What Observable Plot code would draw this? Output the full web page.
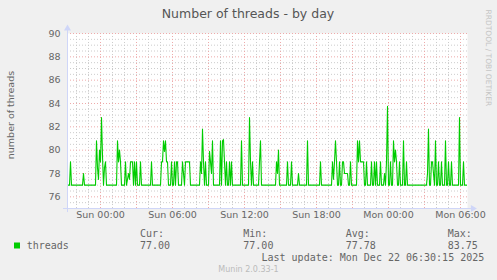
<!DOCTYPE html>
<html><head><meta charset="utf-8">
<script src="https://cdn.jsdelivr.net/npm/d3@7"></script>
<script src="https://cdn.jsdelivr.net/npm/@observablehq/plot@0.6"></script>
<style>
html,body{margin:0;padding:0;background:#f0f0f0;}
#chart svg{display:block}
</style></head><body><div id="chart"></div>
<script>
const title = "Number of threads - by day";
const yLabel = "number of threads";
const seriesName = "threads";
const startTime = "2025-12-20T21:15:00Z";
const stepMinutes = 5;
const stepCount = 400;
// [step index (5-minute samples from start), number of threads]
const samples = [
[0,77],[2,77],[3,79],[4,77],
[15,77],[16,78],[17,77],
[28,77],[29,80.8],[30,78.5],[31,77.5],[32,80],[33,79],[34,82.8],[35,79.5],[36,77],[37,78.5],[38,79],[39,77],
[49,77],[50,80.8],[51,79],[52,80],[53,79],[54,77],
[57,77],[58,79],[59,77],[60,77.5],[61,78],[62,77.5],[63,79],[64,79],[65,79],[66,77],[67,79],[68,77],[69,79],[70,77],
[72,77],[73,79],[74,77],
[83,77],[84,79],[85,77],
[93,77],[94,79],[95,79],[96,80.8],[97,79.9],[98,80.8],[99,79],[100,79],[101,77],
[103,77],[104,79],[105,77],[106,77],[107,79],[108,77],[109,79],[110,79],[111,77],
[114,77],[115,79],[116,78],[117,77],[118,79],[119,79],[120,79],[121,79],[122,79],[123,77],
[132,77],[133,79],[134,78],[135,81.8],[136,79],[137,77],[138,79],[139,77],
[141,77],[142,79.9],[143,79],[144,78],[145,80.8],[146,77],
[152,77],[153,80.8],[154,77],[155,80.8],[156,80.9],[157,79],[158,77],[159,79],[160,77],[161,77],[162,79],[163,77],[164,79],[165,77],
[173,77],[174,80.8],[175,77],
[181,77],[182,82.8],[183,79],[184,77],[185,79],[186,77],
[191,77],[192,79],[193,80.8],[194,77],
[208,77],[209,79],[210,78],[211,80],[212,77],
[219,77],[220,79],[221,77],
[223,77],[224,79],[225,77],
[230,77],[231,78],[232,77],
[239,77],[240,80.8],[241,77],
[252,77],[253,79],[254,77],
[264,77],[265,79],[266,77.5],[267,79],[268,80.8],[269,79],[270,77],
[271,77],[272,79],[273,77],
[274,77],[275,79],[276,79],[277,78],[278,78],[279,78],[280,78],[281,77],
[282,77],[283,79],[284,77],
[289,77],[290,80.8],[291,79],[292,80.8],[293,79],[294,79],[295,79],[296,79],[297,77],
[298,77],[299,79],[300,77],
[303,77],[304,79],[305,77],[306,77],[307,79],[308,77],[309,79],[310,77],
[312,77],[313,79],[314,77],
[316,77],[317,78],[318,77],[319,79],[320,83.75],[321,77],[322,77],[323,79],[324,77],
[325,77],[326,80.8],[327,79],[328,80],[329,79],[330,77],
[331,77],[332,79],[333,77],
[335,77],[336,80.8],[337,77],
[338,77],[339,79],[340,77],
[359,77],[360,78],[361,81.8],[362,77],[363,77],[364,79],[365,79],[366,78],[367,77],
[368,80.8],[369,77],[370,77],[371,79],[372,77],
[373,77],[374,79],[375,77],
[377,77],[378,80.8],[379,77],
[380,77],[381,79],[382,77],
[383,77],[384,79],[385,77],
[391,77],[392,82.8],[393,77],
[395,77],[396,79],[397,77],
[399,77]
];
const yTicks = [76, 78, 80, 82, 84, 86, 88, 90];
const xTickTimes = ["2025-12-21T00:00:00Z","2025-12-21T06:00:00Z","2025-12-21T12:00:00Z","2025-12-21T18:00:00Z","2025-12-22T00:00:00Z","2025-12-22T06:00:00Z"];
const xTickLabels = ["Sun 00:00","Sun 06:00","Sun 12:00","Sun 18:00","Mon 00:00","Mon 06:00"];
const statNames = ["Cur:", "Min:", "Avg:", "Max:"];
const statValues = ["77.00", "77.00", "77.78", "83.75"];
const lastUpdate = "Last update: Mon Dec 22 06:30:15 2025";
const version = "Munin 2.0.33-1";
const watermark = "RRDTOOL / TOBI OETIKER";

const lineColor = "#00cc00";
const axisColor = "#cfd6f8";
const fontColor = "#666666";
const ms = 60000;
const t0 = new Date(startTime);
const t1 = new Date(+t0 + stepCount * stepMinutes * ms);
const data = samples.map(([s, v]) => ({t: new Date(+t0 + s * stepMinutes * ms), v}));

const hours = d3.utcHour.range(t0, t1);
const minorX = hours.filter(d => d.getUTCHours() % 3 !== 0);
const majorX = hours.filter(d => d.getUTCHours() % 3 === 0);
const minorY = d3.range(75.5, 90, 0.5).filter(v => v % 2 !== 0);

const svg = Plot.plot({
  width: 497, height: 280,
  marginLeft: 67, marginRight: 30, marginTop: 33, marginBottom: 72,
  x: {type: "utc", domain: [t0, t1], axis: null},
  y: {domain: [75, 90], axis: null},
  style: {background: "#f0f0f0", fontFamily: "DejaVu Sans", overflow: "visible", color: fontColor},
  marks: [
    Plot.frame({fill: "#ffffff", stroke: "none"}),
    Plot.ruleY(minorY, {stroke: "#cccccc", strokeDasharray: "1 2"}),
    Plot.ruleX(minorX, {stroke: "#cccccc", strokeDasharray: "1 2"}),
    Plot.ruleY(yTicks, {stroke: "#eeaaaa", strokeDasharray: "1 2"}),
    Plot.ruleX(majorX, {stroke: "#eeaaaa", strokeDasharray: "1 2"}),
    Plot.line(data, {x: "t", y: "v", stroke: lineColor, strokeWidth: 1.1}),
    Plot.ruleX([t0], {y1: 74.65, y2: 90.3, stroke: axisColor}),
    Plot.ruleY([75], {x1: new Date(+t0 - 20 * ms), x2: new Date(+t1 + 20 * ms), stroke: axisColor}),
    Plot.dot([0], {x: () => t0, y: () => 90.42, symbol: "triangle", r: 2.6, fill: axisColor, stroke: "none"}),
    Plot.dot([0], {x: () => new Date(+t1 + 27 * ms), y: () => 75, symbol: "triangle", r: 2.6, rotate: 90, fill: axisColor, stroke: "none"}),
    Plot.text(yTicks, {y: d => d, frameAnchor: "left", dx: -7, textAnchor: "end", text: d => String(d), fontSize: 9.5, fill: fontColor}),
    Plot.text(xTickLabels, {x: (d, i) => new Date(xTickTimes[i]), frameAnchor: "bottom", dy: 9.5, text: d => d, fontSize: 9.5, fill: fontColor})
  ]
});
document.getElementById("chart").appendChild(svg);

const g = d3.select(svg).append("g").attr("fill", fontColor).attr("text-anchor", "start");
g.append("text").attr("x", 248).attr("y", 17.5).attr("text-anchor", "middle")
  .attr("font-family", "DejaVu Sans").attr("font-size", 12.5).attr("fill", "#555").text(title);
g.append("text").attr("transform", "translate(10,115) rotate(-90)").attr("text-anchor", "middle")
  .attr("dominant-baseline", "central").attr("font-family", "DejaVu Sans").attr("font-size", 9.5).text(yLabel);
g.append("text").attr("transform", "translate(488,9.5) rotate(90)").attr("text-anchor", "start")
  .attr("dominant-baseline", "central").attr("font-family", "DejaVu Sans").attr("font-size", 7.5)
  .attr("fill", "#c4c4c4").text(watermark);
g.append("rect").attr("x", 14).attr("y", 242.5).attr("width", 6).attr("height", 6).attr("fill", lineColor);
const mono = "DejaVu Sans Mono";
g.append("text").attr("x", 26.7).attr("y", 249).attr("font-family", mono).attr("font-size", 10).text(seriesName);
const statX = [140, 243.3, 345.7, 447.7];
statNames.forEach((n, i) => {
  g.append("text").attr("x", statX[i]).attr("y", 237.3).attr("font-family", mono).attr("font-size", 10).text(n);
  g.append("text").attr("x", statX[i]).attr("y", 249).attr("font-family", mono).attr("font-size", 10).text(statValues[i]);
});
g.append("text").attr("x", 261.5).attr("y", 260.5).attr("font-family", mono).attr("font-size", 10).text(lastUpdate);
g.append("text").attr("x", 248.5).attr("y", 271.5).attr("text-anchor", "middle").attr("font-family", "DejaVu Sans")
  .attr("font-size", 8).attr("fill", "#bbbbbb").text(version);
</script>
</body></html>
